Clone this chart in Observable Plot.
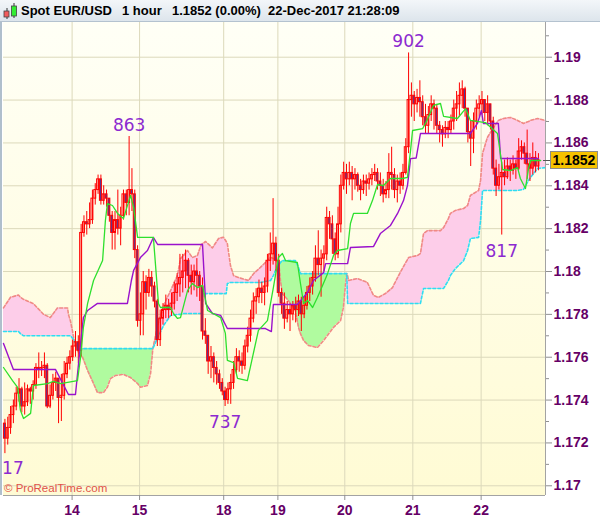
<!DOCTYPE html>
<html>
<head>
<meta charset="utf-8">
<script src="https://cdn.jsdelivr.net/npm/d3@7"></script>
<script src="https://cdn.jsdelivr.net/npm/@observablehq/plot@0.6"></script>
<style>
  html, body { margin: 0; padding: 0; background: #ffffff; }
  #wrap { position: relative; width: 600px; height: 519px; overflow: hidden; background: #ffffff; font-family: "Liberation Sans", Arial, sans-serif; }
  #title { position: absolute; left: 0; top: 0; width: 600px; height: 21px; background: linear-gradient(#f3f6f9, #dde5ec); border-bottom: 1px solid #b4c2cf; }
  #title span { position: absolute; top: 4px; font-weight: bold; font-size: 13px; line-height: 14px; color: #000; white-space: pre; }
  #bg { position: absolute; left: 3px; top: 22px; width: 542px; height: 473px; background: linear-gradient(#fffff6, #fffbd4); }
  #lborder { position: absolute; left: 0; top: 22px; width: 2px; height: 473px; background: #b0bfcc; }
  #chart { position: absolute; left: 0; top: 22px; }
  #copy { position: absolute; left: 4px; top: 482px; font-size: 11.5px; color: #e0524a; font-family: "Liberation Sans", Arial, sans-serif; }
  #last { position: absolute; left: 550px; width: 46px; height: 16px; background: #f6c200; border: 1px solid #8c8c8c; font-weight: bold; font-size: 14px; line-height: 16px; text-align: center; color: #000; }
  #lastTick { position: absolute; left: 543px; width: 7px; height: 1px; background: #555; }
</style>
</head>
<body>
<div id="wrap">
  <div id="title">
    <svg width="18" height="21" style="position:absolute;left:1px;top:0">
      <line x1="6" y1="8" x2="6" y2="19" stroke="#333" stroke-width="1"/>
      <rect x="3" y="11" width="5" height="6" fill="#f25c5c" stroke="#444" stroke-width="0.8"/>
      <line x1="13" y1="3" x2="13" y2="18" stroke="#333" stroke-width="1"/>
      <rect x="10.5" y="6" width="5" height="10" fill="#33ee33" stroke="#444" stroke-width="0.8"/>
    </svg>
    <span style="left:21px">Spot EUR/USD</span>
    <span style="left:122px">1 hour</span>
    <span style="left:172px">1.1852 (0.00%)</span>
    <span style="left:268px">22-Dec-2017 21:28:09</span>
  </div>
  <div id="bg"></div>
  <div id="lborder"></div>
  <div id="chart"></div>
  <div id="copy">© ProRealTime.com</div>
</div>
<script>
// ---- Data (EUR/USD hourly, 13-22 Dec 2017), bar index i, x unit = bars ----
const firstOpen = 1.1729;
const close = [
1.1722,1.1727,1.1733,1.1737,1.1743,1.1745,1.1737,1.1739,1.1745,1.1744,
1.1747,1.1755,1.1754,1.1755,1.1756,1.1737,1.1742,1.1748,1.1750,1.1741,
1.1742,1.1752,1.1757,1.1760,1.1765,1.1767,1.1763,1.1818,1.1823,1.1822,
1.1824,1.1834,1.1838,1.1843,1.1833,1.1836,1.1834,1.1826,1.1818,1.1824,
1.1820,1.1826,1.1836,1.1832,1.1838,1.1836,1.1810,1.1777,1.1780,1.1795,
1.1790,1.1797,1.1793,1.1786,1.1768,1.1778,1.1782,1.1784,1.1782,1.1785,
1.1790,1.1794,1.1797,1.1800,1.1805,1.1798,1.1795,1.1800,1.1798,1.1793,
1.1772,1.1770,1.1758,1.1760,1.1755,1.1752,1.1748,1.1744,1.1740,1.1745,
1.1748,1.1754,1.1760,1.1758,1.1756,1.1765,1.1770,1.1778,1.1786,1.1788,
1.1792,1.1790,1.1793,1.1805,1.1808,1.1813,1.1805,1.1790,1.1785,1.1778,
1.1782,1.1780,1.1784,1.1782,1.1786,1.1780,1.1784,1.1790,1.1793,1.1797,
1.1806,1.1803,1.1806,1.1808,1.1825,1.1822,1.1815,1.1808,1.1822,1.1840,
1.1846,1.1843,1.1846,1.1843,1.1845,1.1840,1.1838,1.1842,1.1841,1.1843,
1.1845,1.1846,1.1842,1.1840,1.1836,1.1838,1.1846,1.1845,1.1838,1.1842,
1.1840,1.1846,1.1858,1.1880,1.1882,1.1878,1.1881,1.1879,1.1872,1.1868,
1.1873,1.1878,1.1876,1.1868,1.1866,1.1864,1.1867,1.1866,1.1870,1.1876,
1.1878,1.1882,1.1885,1.1876,1.1865,1.1862,1.1870,1.1876,1.1878,1.1880,
1.1874,1.1878,1.1870,1.1848,1.1840,1.1844,1.1846,1.1844,1.1849,1.1847,
1.1850,1.1848,1.1856,1.1858,1.1855,1.1850,1.1848,1.1853,1.1849,1.1852
];
const high = [
1.1731,1.1732,1.1737,1.1740,1.1746,1.1750,1.1746,1.1748,1.1747,1.1746,
1.1749,1.1757,1.1762,1.1758,1.1762,1.1757,1.1747,1.1752,1.1753,1.1750,
1.1752,1.1758,1.1760,1.1763,1.1768,1.1772,1.1770,1.1822,1.1826,1.1828,
1.1832,1.1838,1.1841,1.1845,1.1845,1.1840,1.1838,1.1834,1.1828,1.1828,
1.1838,1.1830,1.1838,1.1838,1.1863,1.1848,1.1838,1.1812,1.1790,1.1800,
1.1798,1.1801,1.1800,1.1795,1.1787,1.1782,1.1785,1.1789,1.1787,1.1790,
1.1795,1.1799,1.1808,1.1808,1.1810,1.1806,1.1803,1.1803,1.1806,1.1800,
1.1797,1.1778,1.1770,1.1765,1.1762,1.1758,1.1754,1.1750,1.1746,1.1748,
1.1752,1.1758,1.1764,1.1763,1.1762,1.1768,1.1774,1.1782,1.1790,1.1792,
1.1796,1.1795,1.1797,1.1808,1.1818,1.1834,1.1816,1.1808,1.1792,1.1790,
1.1786,1.1785,1.1786,1.1788,1.1789,1.1788,1.1788,1.1793,1.1797,1.1800,
1.1812,1.1819,1.1810,1.1812,1.1830,1.1828,1.1826,1.1818,1.1830,1.1845,
1.1851,1.1850,1.1851,1.1849,1.1848,1.1846,1.1843,1.1845,1.1845,1.1846,
1.1848,1.1850,1.1848,1.1846,1.1843,1.1842,1.1855,1.1858,1.1848,1.1845,
1.1846,1.1850,1.1862,1.1902,1.1888,1.1884,1.1885,1.1889,1.1882,1.1878,
1.1877,1.1882,1.1880,1.1878,1.1870,1.1868,1.1870,1.1870,1.1873,1.1880,
1.1884,1.1888,1.1889,1.1886,1.1876,1.1870,1.1874,1.1880,1.1882,1.1884,
1.1880,1.1882,1.1878,1.1872,1.1852,1.1850,1.1851,1.1852,1.1853,1.1852,
1.1854,1.1852,1.1862,1.1861,1.1860,1.1866,1.1855,1.1860,1.1856,1.1855
];
const low = [
1.1715,1.1719,1.1724,1.1729,1.1735,1.1739,1.1734,1.1733,1.1737,1.1738,
1.1740,1.1745,1.1750,1.1751,1.1750,1.1736,1.1736,1.1740,1.1744,1.1729,
1.1730,1.1740,1.1750,1.1754,1.1758,1.1760,1.1757,1.1760,1.1816,1.1817,
1.1820,1.1822,1.1831,1.1836,1.1831,1.1831,1.1830,1.1823,1.1810,1.1810,
1.1817,1.1812,1.1824,1.1826,1.1826,1.1828,1.1806,1.1774,1.1770,1.1770,
1.1782,1.1788,1.1788,1.1783,1.1765,1.1765,1.1775,1.1778,1.1778,1.1779,
1.1782,1.1786,1.1788,1.1790,1.1792,1.1790,1.1789,1.1791,1.1788,1.1786,
1.1768,1.1766,1.1752,1.1750,1.1748,1.1747,1.1745,1.1742,1.1737,1.1738,
1.1738,1.1745,1.1752,1.1753,1.1752,1.1754,1.1762,1.1767,1.1776,1.1780,
1.1785,1.1785,1.1784,1.1790,1.1800,1.1803,1.1800,1.1788,1.1780,1.1773,
1.1776,1.1772,1.1777,1.1776,1.1779,1.1772,1.1778,1.1782,1.1786,1.1789,
1.1795,1.1798,1.1788,1.1800,1.1805,1.1815,1.1808,1.1805,1.1806,1.1818,
1.1838,1.1836,1.1840,1.1833,1.1838,1.1837,1.1833,1.1836,1.1835,1.1838,
1.1840,1.1842,1.1838,1.1835,1.1832,1.1834,1.1834,1.1838,1.1834,1.1832,
1.1836,1.1838,1.1845,1.1855,1.1872,1.1870,1.1874,1.1872,1.1868,1.1864,
1.1864,1.1870,1.1866,1.1864,1.1860,1.1858,1.1862,1.1862,1.1864,1.1866,
1.1870,1.1872,1.1876,1.1872,1.1860,1.1849,1.1855,1.1866,1.1872,1.1873,
1.1870,1.1868,1.1866,1.1845,1.1835,1.1838,1.1817,1.1840,1.1843,1.1842,
1.1845,1.1843,1.1847,1.1852,1.1850,1.1843,1.1842,1.1845,1.1846,1.1847
];

// Ichimoku cloud: Senkou span A (salmon) and span B (cyan), read at shared x
const cloudU = [0,2.5,5.3,6.0,7.1,10.6,14.2,16.6,19.1,22.7,23.0,23.7,24.4,25.0,26.6,28.0,29.8,31.9,33.3,35.4,36.8,37.9,39.7,42.5,45.0,47.5,48.5,51.0,52.1,52.9,54.6,56.7,59.2,61.6,62.7,63.8,65.2,66.9,68.7,69.8,70.4,70.6,71.6,74.0,76.2,77.9,78.9,79.3,80.4,81.5,83.2,86.8,88.6,91.0,94.6,95.6,97.1,97.6,98.1,98.8,101.7,103.4,104.5,105.2,106.3,108.0,111.2,113.4,116.9,119.4,120.4,121.1,121.6,121.9,122.2,125.4,128.9,131.1,132.8,135.3,137.8,139.6,141.3,143.5,146.7,147.7,148.8,150.2,154.8,155.9,157.6,158.3,160.1,163.0,164.4,165.4,168.3,169.0,169.7,171.4,173.6,175.3,177.1,179.6,182.1,184.2,186.0,186.7,189.2,192.0];
const spanA = [1.1783,1.1788,1.1789,1.1788,1.1787,1.1785,1.1780,1.17785,1.1783,1.1783,1.1780,1.1777,1.17725,1.1768,1.1762,1.1760,1.17538,1.17477,1.17435,1.17435,1.1746,1.1750,1.17515,1.1752,1.17505,1.17477,1.1746,1.17468,1.17524,1.1764,1.17748,1.17841,1.17911,1.17981,1.1806,1.18075,1.18098,1.18065,1.18075,1.18117,1.1813,1.1813,1.1814,1.1811,1.18154,1.1816,1.1814,1.1813,1.18028,1.17981,1.17972,1.17958,1.1799,1.18019,1.18065,1.18061,1.18042,1.1803,1.17958,1.17897,1.17851,1.17818,1.17739,1.1771,1.17678,1.17655,1.17645,1.17678,1.17739,1.17771,1.17832,1.17935,1.1799,1.17981,1.17958,1.17967,1.17949,1.17888,1.17879,1.17897,1.17925,1.17972,1.18014,1.18065,1.18075,1.18084,1.18177,1.18191,1.18191,1.18205,1.18247,1.18271,1.18285,1.18294,1.18308,1.18355,1.18378,1.18425,1.18551,1.18625,1.18672,1.18705,1.18714,1.18719,1.18705,1.18691,1.1870,1.18705,1.18714,1.18705];
const spanB = [1.1772,1.1772,1.1772,1.1771,1.1770,1.1770,1.1770,1.1770,1.1770,1.1770,1.1770,1.1770,1.1769,1.1768,1.17636,1.1764,1.1764,1.1764,1.1764,1.1764,1.1764,1.1764,1.1764,1.1764,1.1764,1.1764,1.1764,1.1764,1.1764,1.1764,1.17692,1.17748,1.17795,1.1780,1.1780,1.17804,1.17804,1.17804,1.17804,1.17804,1.17804,1.17897,1.17897,1.17897,1.17897,1.17897,1.17897,1.17944,1.17949,1.17949,1.17949,1.17949,1.17949,1.17949,1.17958,1.17981,1.18028,1.1803,1.18042,1.18051,1.18051,1.18051,1.18019,1.1799,1.1799,1.1799,1.1799,1.1799,1.1799,1.1799,1.1799,1.1799,1.1799,1.17851,1.17851,1.17851,1.17851,1.17851,1.17851,1.17851,1.17851,1.17851,1.17851,1.17851,1.17851,1.17851,1.17921,1.17921,1.17921,1.17921,1.17958,1.17981,1.18014,1.18051,1.18098,1.18154,1.18159,1.18238,1.18378,1.18378,1.18378,1.18378,1.18378,1.18378,1.18378,1.18383,1.18425,1.18439,1.18481,1.18485];

// Tenkan-sen (green) and Kijun-sen (purple) vertices
const tenkanU = [0,3.2,5.0,6.0,7.1,9.6,10.6,15.6,17.7,20.2,26.2,27.3,28.3,29.8,31.9,35.1,36.1,36.8,38.6,40.4,42.5,45.0,46.1,47.5,53.1,54.9,55.6,59.2,60.2,61.6,62.7,65.2,66.9,68.7,70.5,72.3,76.9,78.6,79.3,81.5,82.9,86.4,88.2,90.3,93.5,95.6,97.4,98.8,99.9,104.1,105.2,106.3,107.7,109.5,111.2,114.8,116.9,118.3,121.9,122.9,124.0,128.9,130.7,132.5,134.6,137.1,141.3,143.1,144.2,144.9,148.5,150.2,152.3,154.8,155.9,160.8,163.7,165.4,170.7,175.0,176.8,179.6,182.1,183.1,184.9,186.0,186.7,190.3];
const tenkanV = [1.17552,1.17491,1.17459,1.17352,1.17314,1.17338,1.17468,1.17477,1.17487,1.17477,1.17491,1.17599,1.17739,1.17851,1.17958,1.18051,1.18238,1.18317,1.18308,1.18271,1.18247,1.18355,1.18299,1.18159,1.18159,1.17851,1.17832,1.17832,1.17804,1.17781,1.17785,1.17911,1.17944,1.17925,1.17935,1.17818,1.17785,1.17711,1.17585,1.17575,1.17501,1.17491,1.17599,1.17725,1.17771,1.17925,1.18065,1.18084,1.18051,1.18042,1.17944,1.17851,1.17865,1.17832,1.17879,1.1799,1.18075,1.18098,1.18107,1.18224,1.18271,1.18271,1.18331,1.18406,1.18401,1.18434,1.18434,1.18439,1.18565,1.18658,1.18667,1.1871,1.18775,1.18784,1.18724,1.18714,1.1876,1.18705,1.18695,1.18644,1.18476,1.18471,1.18485,1.18434,1.18387,1.18481,1.18518,1.18518];
const kijunU = [0,3.5,18.4,23.0,25.5,27.3,28.3,29.8,33.3,43.9,45.3,46.1,48.5,51.0,53.1,54.6,70.5,71.6,74.0,76.9,79.3,92.8,94.9,95.6,104.1,107.7,109.8,113.4,114.1,121.9,122.9,131.1,133.5,137.1,139.6,141.7,143.1,144.2,146.2,147.7,165.4,167.9,169.3,170.0,175.3,176.1,189.5];
const kijunV = [1.17664,1.17543,1.17543,1.17426,1.17426,1.17664,1.17785,1.17818,1.17851,1.17851,1.17958,1.18005,1.18065,1.18098,1.18159,1.18126,1.18126,1.17851,1.17804,1.17795,1.17734,1.17734,1.1772,1.17846,1.17846,1.17902,1.17958,1.17995,1.18037,1.18037,1.18112,1.18117,1.18177,1.18215,1.18271,1.18331,1.18401,1.18527,1.1853,1.18644,1.18644,1.18691,1.18751,1.18691,1.18691,1.18527,1.18527];

// Axis ticks and labels
const dayTickU = [24.3, 48.2, 78.0, 97.2, 120.9, 145.0, 169.2];
const dayLabels = ["14", "15", "18", "19", "20", "21", "22"];
const priceTicks = [1.17, 1.172, 1.174, 1.176, 1.178, 1.18, 1.182, 1.184, 1.186, 1.188, 1.19];
const priceLabels = ["1.17","1.172","1.174","1.176","1.178","1.18","1.182","1.184","1.186","1.188","1.19"];
const minorTicks = [1.171, 1.173, 1.175, 1.177, 1.179, 1.181, 1.183, 1.185, 1.187, 1.189, 1.191];

// Extremes labelled on the chart (bar index, which side)
const extremeBars = [44, 143];     // highs: 863, 902
const extremeLowBars = [78, 176];  // lows: 737, 817
const offChartLow = 1.1717;        // low just left of the window, shown as "17"
const offChartLowBar = -0.5;       // label's left edge sits here
const lastPrice = 1.1852;

// ---- build tables ----
const candles = close.map((c, i) => {
  const o = i ? close[i - 1] : firstOpen;
  return {i, o, c, h: high[i], l: low[i]};
});
const cloud = cloudU.map((u, k) => ({u, a: spanA[k], b: spanB[k]}));
const tenkan = tenkanU.map((u, k) => ({u, v: tenkanV[k]}));
const kijun = kijunU.map((u, k) => ({u, v: kijunV[k]}));
const pipsLabel = v => String(Math.round(v * 10000)).slice(-3);
const annHigh = extremeBars.map(i => ({u: i + 0.5, v: high[i], t: pipsLabel(high[i])}));
const annLow = extremeLowBars.map(i => ({u: i + 0.5, v: low[i], t: pipsLabel(low[i])}));
const annEdge = [{u: offChartLowBar, v: offChartLow, t: pipsLabel(offChartLow).slice(-2)}];
const labelOf = new Map(priceTicks.map((t, k) => [t, priceLabels[k]]));
const dayOf = new Map(dayTickU.map((t, k) => [t, dayLabels[k]]));

const yMin = 1.169547, yMax = 1.19162;
const grid = "#dcd9bb";
const up = candles.filter(d => d.c >= d.o);
const down = candles.filter(d => d.c < d.o);
const bodyTop = d => (Math.abs(d.c - d.o) < 0.00003 ? d.o + 0.00003 : d.c);
const annFont = {fontSize: 17, fontFamily: "DejaVu Sans", fill: "#8c2ad0", lineAnchor: "middle"};

const plot = Plot.plot({
  width: 600,
  height: 497,
  marginLeft: 3,
  marginRight: 55,
  marginTop: 0,
  marginBottom: 24,
  style: {background: "transparent", overflow: "visible"},
  x: {domain: [0, 192], axis: null, label: null},
  y: {domain: [yMin, yMax], axis: null, label: null},
  marks: [
    Plot.ruleY(priceTicks, {stroke: grid, strokeWidth: 1}),
    Plot.ruleX(dayTickU, {stroke: grid, strokeWidth: 1}),
    Plot.areaY(cloud, {x: "u", y1: "b", y2: d => Math.max(d.a, d.b), fill: "#fdcde9"}),
    Plot.areaY(cloud, {x: "u", y1: "a", y2: d => Math.max(d.a, d.b), fill: "#b0fb9f"}),
    Plot.line(cloud, {x: "u", y: "a", stroke: "#f08a84", strokeWidth: 1.6, strokeDasharray: "3,2"}),
    Plot.line(cloud, {x: "u", y: "b", stroke: "#2fdcf2", strokeWidth: 1.6, strokeDasharray: "3,2"}),
    Plot.ruleX(candles, {x: d => d.i + 0.5, y1: "l", y2: "h", stroke: "#ff0000", strokeWidth: 1}),
    Plot.rect(up, {x1: d => d.i + 0.15, x2: d => d.i + 0.85, y1: "o", y2: bodyTop, fill: "none", stroke: "#ff0000", strokeWidth: 1}),
    Plot.rect(down, {x1: d => d.i + 0.15, x2: d => d.i + 0.85, y1: "o", y2: "c", fill: "#4a3a9e", stroke: "#ff0000", strokeWidth: 1}),
    Plot.line(kijun, {x: "u", y: "v", stroke: "#9a12cc", strokeWidth: 1.4}),
    Plot.line(tenkan, {x: "u", y: "v", stroke: "#2ee02e", strokeWidth: 1.3}),
    Plot.text(annHigh, {x: "u", y: "v", text: "t", dy: -11, ...annFont}),
    Plot.text(annLow, {x: "u", y: "v", text: "t", dy: 16, ...annFont}),
    Plot.text(annEdge, {x: "u", y: "v", text: "t", dy: 19, textAnchor: "start", ...annFont}),
    Plot.ruleX([192], {stroke: "#a3a3a3"}),
    Plot.ruleY([yMin], {stroke: "#a3a3a3"}),
    Plot.axisY(minorTicks, {anchor: "right", tickSize: 3, tickFormat: () => "", stroke: "#909090", label: null}),
    Plot.axisY(priceTicks, {anchor: "right", tickSize: 6, tickPadding: 2, tickFormat: d => labelOf.get(d), stroke: "#909090", fill: "#660066", fontSize: 14, fontWeight: "bold", fontFamily: "Liberation Sans, Arial, sans-serif", label: null}),
    Plot.axisX(dayTickU, {anchor: "bottom", tickSize: 5, tickPadding: 5, tickFormat: d => dayOf.get(d), stroke: "#909090", fill: "#660066", fontSize: 14, fontWeight: "bold", fontFamily: "Liberation Sans, Arial, sans-serif", label: null})
  ]
});
document.getElementById("chart").appendChild(plot);

// current price box positioned via the plot's own y scale
const yPix = plot.scale("y").apply(lastPrice) + 22;
const box = document.createElement("div");
box.id = "last";
box.textContent = lastPrice.toFixed(4);
box.style.top = (yPix - 9) + "px";
const tick = document.createElement("div");
tick.id = "lastTick";
tick.style.top = Math.round(yPix) + "px";
document.getElementById("wrap").appendChild(tick);
document.getElementById("wrap").appendChild(box);
</script>
</body>
</html>
